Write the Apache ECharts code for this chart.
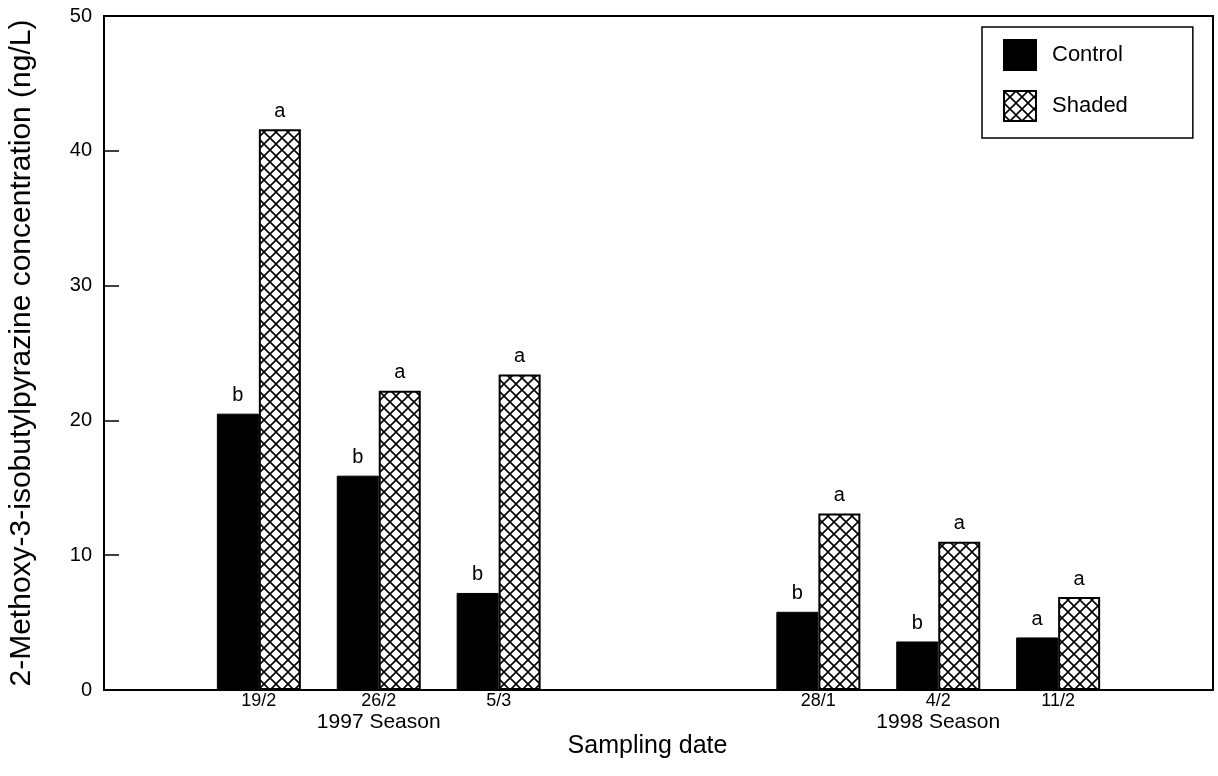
<!DOCTYPE html>
<html>
<head>
<meta charset="utf-8">
<script src="https://cdn.jsdelivr.net/npm/echarts@6/dist/echarts.min.js"></script>
<style>
html,body{margin:0;padding:0;background:#fff;}
#chart{width:1218px;height:776px;}
</style>
</head>
<body>
<div id="chart"></div>
<script>
// ---- data ----
const dates1997 = ['19/2', '26/2', '5/3'];
const dates1998 = ['28/1', '4/2', '11/2'];
const seasonNames = ['1997 Season', '1998 Season'];
const control1997 = [20.5, 15.9, 7.2];
const shaded1997 = [41.6, 22.2, 23.4];
const control1998 = [5.8, 3.6, 3.9];
const shaded1998 = [13.1, 11.0, 6.9];
const controlLetters1997 = ['b', 'b', 'b'];
const shadedLetters1997 = ['a', 'a', 'a'];
const controlLetters1998 = ['b', 'b', 'a'];
const shadedLetters1998 = ['a', 'a', 'a'];
const yTicks = [0, 10, 20, 30, 40, 50];

// ---- layout of the category slots ----
const SLOT_COUNT = 223;
const SEASON_START = [31, 143];
const SLOT_STEP = 24;

const seasons = [
  { dates: dates1997, control: control1997, shaded: shaded1997, cl: controlLetters1997, sl: shadedLetters1997 },
  { dates: dates1998, control: control1998, shaded: shaded1998, cl: controlLetters1998, sl: shadedLetters1998 }
];

const slotKeys = [];
const slotLabels = [];
const controlData = [];
const shadedData = [];
const controlLbl = [];
const shadedLbl = [];
for (let i = 0; i < SLOT_COUNT; i++) {
  slotKeys.push('s' + i);
  slotLabels.push('');
  controlData.push('-');
  shadedData.push('-');
  controlLbl.push('');
  shadedLbl.push('');
}
seasons.forEach((s, si) => {
  s.dates.forEach((d, di) => {
    const idx = SEASON_START[si] + di * SLOT_STEP;
    const mid = Math.floor(s.dates.length / 2);
    slotLabels[idx] = di === mid
      ? '{d|' + d + '}\n{season|' + seasonNames[si] + '}'
      : '{d|' + d + '}\n{season| }';
    controlData[idx] = s.control[di];
    shadedData[idx] = s.shaded[di];
    controlLbl[idx] = s.cl[di];
    shadedLbl[idx] = s.sl[di];
  });
});

// cross-hatch pattern
const pat = document.createElement('canvas');
pat.width = 12; pat.height = 12;
const ctx = pat.getContext('2d');
ctx.fillStyle = '#fff';
ctx.fillRect(0, 0, 12, 12);
ctx.strokeStyle = '#000';
ctx.lineWidth = 1.6;
ctx.beginPath();
ctx.moveTo(-2, -2); ctx.lineTo(14, 14);
ctx.moveTo(14, -2); ctx.lineTo(-2, 14);
ctx.stroke();

const FONT = 'Liberation Sans, Arial, Helvetica, sans-serif';

const chart = echarts.init(document.getElementById('chart'), null, { renderer: 'canvas' });
chart.setOption({
  backgroundColor: '#fff',
  animation: false,
  textStyle: { fontFamily: FONT, color: '#000' },
  grid: {
    left: 104, right: 5, top: 16, bottom: 86,
    containLabel: false,
    outerBoundsMode: 'none',
    show: true, borderColor: '#000', borderWidth: 2, backgroundColor: 'transparent'
  },
  legend: {
    data: ['Control', 'Shaded'],
    icon: 'rect',
    orient: 'vertical',
    left: 982, top: 27,
    padding: [12, 65, 16, 21],
    itemWidth: 32, itemHeight: 30, itemGap: 19,
    borderColor: '#000', borderWidth: 1.5,
    textStyle: { fontSize: 22, color: '#000', fontFamily: FONT, padding: [0, 0, 0, 11] }
  },
  xAxis: {
    type: 'category',
    data: slotKeys,
    boundaryGap: false,
    name: 'Sampling date',
    nameLocation: 'middle',
    nameGap: 44,
    nameMoveOverlap: false,
    nameTextStyle: { fontSize: 25, color: '#000', fontFamily: FONT, padding: [0, 22, 0, 0] },
    axisLine: { show: true, lineStyle: { color: '#000', width: 2 } },
    axisTick: { show: false },
    splitLine: { show: false },
    axisLabel: {
      interval: 0,
      margin: 2,
      color: '#000',
      fontFamily: FONT,
      showMinLabel: true,
      showMaxLabel: true,
      formatter: (v, i) => slotLabels[i],
      rich: {
        d: { fontSize: 18, lineHeight: 18, fontFamily: FONT, color: '#000' },
        season: { fontSize: 21, lineHeight: 25, fontFamily: FONT, color: '#000' }
      }
    }
  },
  yAxis: {
    type: 'value',
    min: yTicks[0], max: yTicks[yTicks.length - 1], interval: yTicks[1] - yTicks[0],
    name: '2-Methoxy-3-isobutylpyrazine concentration (ng/L)',
    nameLocation: 'middle',
    nameGap: 67,
    nameMoveOverlap: false,
    nameTextStyle: { fontSize: 30, color: '#000', fontFamily: FONT },
    axisLine: { show: true, lineStyle: { color: '#000', width: 2 } },
    axisTick: { show: true, inside: true, length: 15, lineStyle: { color: '#000', width: 1.5 } },
    splitLine: { show: false },
    axisLabel: { fontSize: 20, color: '#000', margin: 12, fontFamily: FONT }
  },
  series: [
    {
      name: 'Control', type: 'bar',
      data: controlData,
      barWidth: 42, barGap: '0%',
      itemStyle: { color: '#000', borderColor: '#000', borderWidth: 1 },
      label: { show: true, position: 'top', distance: 8, fontSize: 20, color: '#000', fontFamily: FONT,
        formatter: p => controlLbl[p.dataIndex] }
    },
    {
      name: 'Shaded', type: 'bar',
      data: shadedData,
      barWidth: 42, barGap: '0%',
      itemStyle: { color: { image: pat, repeat: 'repeat' }, borderColor: '#000', borderWidth: 2 },
      label: { show: true, position: 'top', distance: 8, fontSize: 20, color: '#000', fontFamily: FONT,
        formatter: p => shadedLbl[p.dataIndex] }
    }
  ]
});
</script>
</body>
</html>
